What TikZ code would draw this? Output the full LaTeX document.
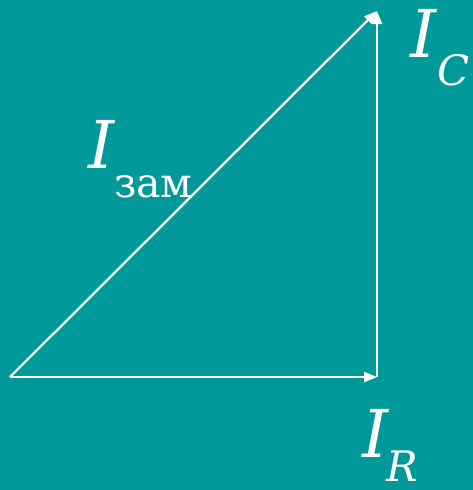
\documentclass[tikz,border=0pt]{standalone}
\usepackage{fontspec}
\setmainfont{DejaVu Serif}
\usetikzlibrary{arrows.meta}
\definecolor{bgteal}{RGB}{0,153,153}
\tikzset{
  vec/.style={white, line width=2.3pt, -{Triangle[length=13pt,width=10pt]}},
  bigI/.style={white, inner sep=0pt, anchor=base west, font=\fontsize{66}{66}\selectfont\itshape},
  subl/.style={white, inner sep=0pt, anchor=base west, font=\fontsize{42}{42}\selectfont\itshape},
  subu/.style={white, inner sep=0pt, anchor=base west, font=\fontsize{41}{41}\selectfont},
}
\begin{document}
\begin{tikzpicture}[x=1pt,y=-1pt]
\fill[bgteal] (0,0) rectangle (473,490);
\useasboundingbox (0,0) rectangle (473,490);
\coordinate (O) at (10,377);
\coordinate (R) at (377,377);
\coordinate (T) at (377,11);
\draw[vec] (O) -- (R);
\draw[vec] (R) -- (T);
\draw[vec] (O) -- (T);
\node[bigI] (ic) at (410,57) {I};
\node[subl] (ics) at (437,85) {C};
\node[bigI] (ir) at (362,457) {I};
\node[subl] (irs) at (386,481) {R};
\node[bigI] (iz) at (88,168) {I};
\node[subu] (izs) at (114,197) {зам};
\end{tikzpicture}
\end{document}
